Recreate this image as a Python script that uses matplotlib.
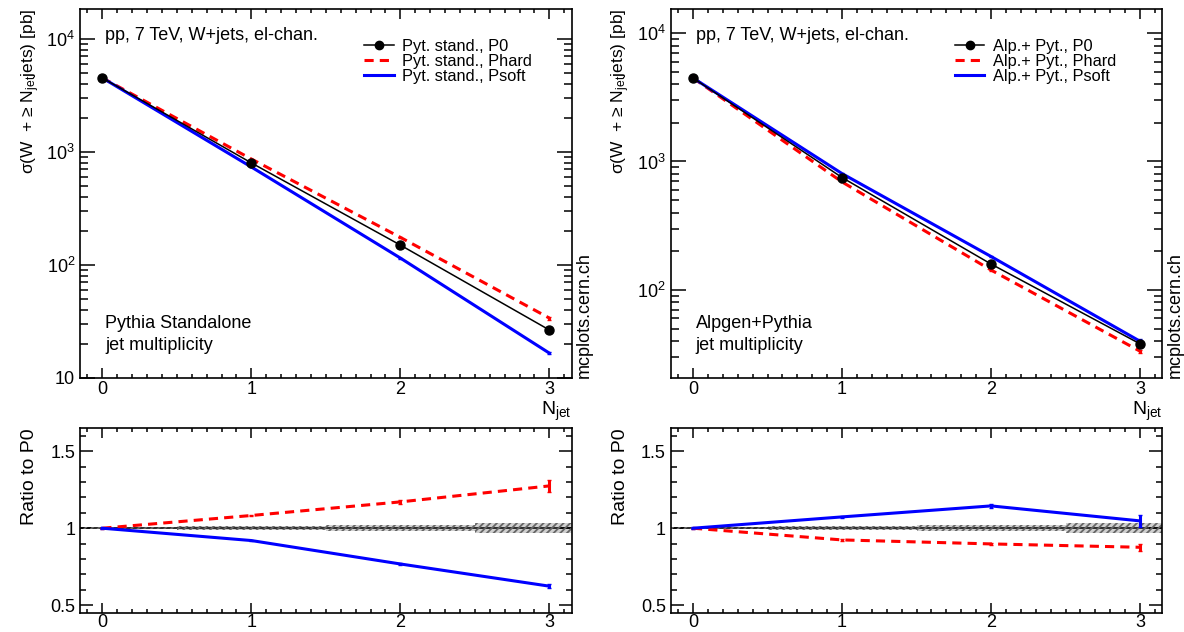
import numpy as np
import matplotlib
matplotlib.use("Agg")
import matplotlib.pyplot as plt
from matplotlib.lines import Line2D
from matplotlib.ticker import MultipleLocator, LogLocator, NullFormatter, FixedLocator, FuncFormatter

plt.rcParams['font.family'] = ['Liberation Sans', 'DejaVu Sans']
plt.rcParams['mathtext.fontset'] = 'custom'
plt.rcParams['mathtext.rm'] = 'Liberation Sans'
plt.rcParams['mathtext.it'] = 'Liberation Sans'
plt.rcParams['hatch.linewidth'] = 1.3

# jet multiplicity bins
njet = [0, 1, 2, 3]

# Pythia standalone, cross sections [pb]
pyt_p0 = [4520, 800, 150, 26.6]
pyt_phard = [4520, 866, 175.6, 33.9]
pyt_psoft = [4520, 736, 115.2, 16.6]
pyt_err_hard = [0.002, 0.005, 0.01, 0.03]   # relative errors
pyt_err_soft = [0.002, 0.004, 0.01, 0.02]
pyt_band = [0.006, 0.012, 0.02, 0.032]      # P0 relative uncertainty

# Alpgen + Pythia
alp_p0 = [4470, 750, 159, 38.0]
alp_phard = [4470, 693, 142.8, 33.3]
alp_psoft = [4470, 805, 182, 39.8]
alp_err_hard = [0.002, 0.005, 0.01, 0.025]
alp_err_soft = [0.002, 0.005, 0.012, 0.035]
alp_band = [0.006, 0.012, 0.02, 0.032]

labels_pyt = ['Pyt. stand., P0', 'Pyt. stand., Phard', 'Pyt. stand., Psoft']
labels_alp = ['Alp.+ Pyt., P0', 'Alp.+ Pyt., Phard', 'Alp.+ Pyt., Psoft']

FS = 13
W = 491.7 / 1184


def log_fmt(v, pos):
    n = int(round(np.log10(v)))
    if n == 1:
        return '10'
    return r'$10^{%d}$' % n


def style_axis(ax):
    ax.tick_params(which='both', direction='in', top=True, right=True, labelsize=FS, width=1.1)
    ax.tick_params(which='major', axis='x', length=7, pad=2)
    ax.tick_params(which='minor', axis='x', length=3)
    ax.xaxis.set_major_locator(MultipleLocator(1))
    ax.xaxis.set_minor_locator(MultipleLocator(0.1))
    for s in ax.spines.values():
        s.set_linewidth(1.2)


def panel(x0, p0, phard, psoft, eh, es, band, labels, title, ylim):
    ax = fig.add_axes([x0, 1 - 378 / 632, W, 369 / 632])
    rx = fig.add_axes([x0, 1 - 613 / 632, W, 185 / 632])
    x = np.array(njet)
    p0 = np.array(p0); phard = np.array(phard); psoft = np.array(psoft)

    ax.plot(x, p0, '-', color='black', lw=1.1, marker='o', ms=6.5, zorder=4)
    ax.errorbar(x, phard, yerr=phard * np.array(eh), color='red', ls='--', lw=2.2,
                dashes=(3, 2), capsize=1.5, zorder=3)
    ax.errorbar(x, psoft, yerr=psoft * np.array(es), color='blue', ls='-', lw=2.2,
                capsize=1.5, zorder=3)
    ax.set_yscale('log')
    ax.set_xlim(-0.15, 3.15)
    ax.set_ylim(*ylim)
    style_axis(ax)
    ax.yaxis.set_major_locator(LogLocator(base=10))
    ax.yaxis.set_major_formatter(FuncFormatter(log_fmt))
    ax.yaxis.set_minor_locator(LogLocator(base=10, subs=np.arange(2, 10)))
    ax.yaxis.set_minor_formatter(NullFormatter())
    ax.tick_params(which='major', axis='y', length=11)
    ax.tick_params(which='minor', axis='y', length=5.5)
    ax.set_ylabel(r'σ(W  + ≥ N$_{\mathregular{jet}}$jets) [pb]', fontsize=12.5, loc='top')
    ax.yaxis.set_label_coords(-0.078, 1.0)
    ax.text(0.051, 0.927, 'pp, 7 TeV, W+jets, el-chan.', transform=ax.transAxes,
            fontsize=FS, va='center')
    ax.text(0.051, 0.149, title, transform=ax.transAxes, fontsize=FS, va='center')
    ax.text(0.051, 0.089, 'jet multiplicity', transform=ax.transAxes, fontsize=FS, va='center')
    ax.text(1.008, 0.0, 'mcplots.cern.ch', transform=ax.transAxes, rotation=90,
            fontsize=FS, ha='left', va='bottom')
    ax.text(1.0, -0.06, r'N$_{\mathregular{jet}}$', transform=ax.transAxes,
            fontsize=FS + 1, ha='right', va='top')
    handles = [Line2D([], [], color='black', lw=1.1, marker='o', ms=6),
               Line2D([], [], color='red', lw=2.2, ls='--', dashes=(3, 2)),
               Line2D([], [], color='blue', lw=2.2)]
    ax.legend(handles, labels, loc='upper left', bbox_to_anchor=(0.578, 0.92),
              frameon=False, fontsize=11.8, handlelength=1.8, handletextpad=0.5,
              labelspacing=0.02, borderaxespad=0, borderpad=0)

    # ratio panel
    edges = np.append(x - 0.5, x[-1] + 0.5)
    b = np.append(np.array(band), band[-1])
    rx.fill_between(edges, 1 - b, 1 + b, step='post', facecolor='#d0d0d0',
                    edgecolor='none', zorder=1)
    rx.fill_between(edges, 1 - b, 1 + b, step='post', facecolor='none',
                    edgecolor='#666666', hatch='/////', lw=0, zorder=2)
    rx.axhline(1, color='black', lw=1.1, zorder=1.5)
    rx.errorbar(x, phard / p0, yerr=phard / p0 * np.array(eh), color='red', ls='--',
                lw=2.2, dashes=(3, 2), capsize=1.5, zorder=3)
    rx.errorbar(x, psoft / p0, yerr=psoft / p0 * np.array(es), color='blue', ls='-',
                lw=2.2, capsize=1.5, zorder=3)
    rx.set_xlim(-0.15, 3.15)
    rx.set_ylim(0.45, 1.65)
    style_axis(rx)
    rx.tick_params(which='major', axis='x', pad=1)
    rx.yaxis.set_major_locator(FixedLocator([0.5, 1, 1.5]))
    rx.yaxis.set_major_formatter(FuncFormatter(lambda v, p: '%g' % v))
    rx.yaxis.set_minor_locator(MultipleLocator(0.1))
    rx.tick_params(which='major', axis='y', length=9.5)
    rx.tick_params(which='minor', axis='y', length=4)
    rx.set_ylabel('Ratio to P0', fontsize=14, loc='top')
    rx.yaxis.set_label_coords(-0.085, 1.0)


fig = plt.figure(figsize=(11.84, 6.32), dpi=100)
panel(80 / 1184, pyt_p0, pyt_phard, pyt_psoft, pyt_err_hard, pyt_err_soft, pyt_band,
      labels_pyt, 'Pythia Standalone', (10, 18400))
panel(670.7 / 1184, alp_p0, alp_phard, alp_psoft, alp_err_hard, alp_err_soft, alp_band,
      labels_alp, 'Alpgen+Pythia', (20.6, 15400))
fig.savefig('out.png', dpi=100)
